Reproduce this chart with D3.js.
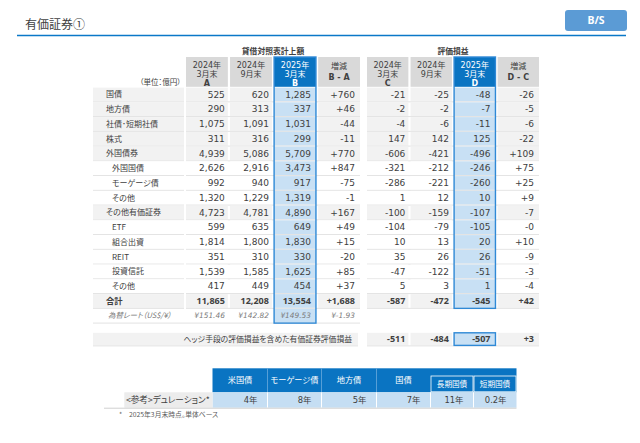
<!DOCTYPE html>
<html><head><meta charset="utf-8">
<script src="https://cdn.jsdelivr.net/npm/d3@7"></script>
<style>
html,body{margin:0;padding:0;background:#fff;}
svg{display:block;}
text{font-feature-settings:"palt";}
</style></head><body>
<svg id="c" width="640" height="443"></svg>
<script>
// ---------------- DATA ----------------
const rowLabels = ['国債','地方債','社債･短期社債','株式','外国債券','外国国債','モーゲージ債','その他','その他有価証券','ETF','組合出資','REIT','投資信託','その他','合計'];
const isSubRow  = [false,false,false,false,false,true,true,true,false,true,true,true,true,true,false];
const bsMar24 = [525,290,1075,311,4939,2626,992,1320,4723,599,1814,351,1539,417,11865];
const bsSep24 = [620,313,1091,316,5086,2916,940,1229,4781,635,1800,310,1585,449,12208];
const bsMar25 = [1285,337,1031,299,5709,3473,917,1319,4890,649,1830,330,1625,454,13554];
const bsDiff  = [760,46,-44,-11,770,847,-75,-1,167,49,15,-20,85,37,1688];
const valMar24 = [-21,-2,-4,147,-606,-321,-286,1,-100,-104,10,35,-47,5,-587];
const valSep24 = [-25,-2,-6,142,-421,-212,-221,12,-159,-79,13,26,-122,3,-472];
const valMar25 = [-48,-7,-11,125,-496,-246,-260,10,-107,-105,20,26,-51,1,-545];
const valDiff  = [-26,-5,-6,-22,109,75,25,9,-7,-0,10,-9,-3,-4,42];
const fxLabel = '為替レート（US$/¥）';
const fxRate = [151.46,142.82,149.53];
const fxDiff = -1.93;
const hedgeLabel = 'ヘッジ手段の評価損益を含めた有価証券評価損益';
const hedgeVal = [-511,-484,-507,3];
const headLeft  = [['2024年','3月末','A'],['2024年','9月末'],['2025年','3月末','B'],['増減','B - A']];
const headRight = [['2024年','3月末','C'],['2024年','9月末'],['2025年','3月末','D'],['増減','D - C']];
const groupTitles = ['貸借対照表計上額','評価損益'];
const unitLabel = '（単位：億円）';
const durCats  = ['米国債','モーゲージ債','地方債','国債','長期国債','短期国債'];
const durYears = [4,8,5,7,11,0.2];
const durLabel = '<参考>デュレーション*';
const footnote = '*　2025年3月末時点。単体ベース';
const pageTitle = '有価証券①';
const badge = 'B/S';

// ---------------- DRAW ----------------
const svg = d3.select('#c');
const NUM = '"DejaVu Sans","Noto Sans CJK JP",sans-serif';
const JP  = '"Noto Sans CJK JP",sans-serif';
const BOLDNUM = '"Noto Sans","Noto Sans CJK JP",sans-serif';
const TXT = '#404040', GREY='#f2f2f2', HEAD='#d9d9d9', DARK='#0a74c2', LIGHT='#c8e0f4', EDGE='#2f89d6';

function t(x,y,s,o={}) {
  return svg.append('text').attr('x',x).attr('y',y).attr('dy','0.35em')
    .attr('text-anchor',o.anchor||'start')
    .style('font-family',o.font||JP).style('font-size',(o.size||7.5)+'px')
    .style('font-weight',o.bold?'bold':'normal').style('font-style',o.italic?'italic':'normal')
    .attr('fill',o.fill||TXT).text(s);
}
const num = v => (v<0||Object.is(v,-0) ? '-' : '') + d3.format(',')(Math.abs(v));
const sgn = v => (v<0||Object.is(v,-0) ? '-' : '+') + d3.format(',')(Math.abs(v));

// title
t(25,25,pageTitle,{size:12,fill:'#404040'});
svg.append('line').attr('x1',17).attr('x2',626).attr('y1',35.5).attr('y2',35.5).attr('stroke','#0a78c8').attr('stroke-width',1.5);
svg.append('rect').attr('x',565).attr('y',10).attr('width',62).attr('height',21).attr('rx',3).attr('fill','#5b9bd5');
t(596,20.5,badge,{size:10.5,bold:true,fill:'#fff',anchor:'middle',font:BOLDNUM});

const y = d3.scaleBand().domain(d3.range(16)).range([87.6, 87.6+16*14.75]);
const rh = y.bandwidth();
const keys = ['a','s','b','d'];
const xL = d3.scaleBand().domain(keys).range([186,360]).paddingInner(0.05);
const xR = d3.scaleBand().domain(keys).range([367,539]).paddingInner(0.05);
const headTop = 57, headBot = 86.8;

function table(x, heads, series, title, withFx) {
  const bw = x.bandwidth();
  t((x.range()[0]+x.range()[1])/2, 51, title, {bold:true, anchor:'middle', size:7.8});
  keys.forEach((k,j)=>{
    const blue = j===2;
    svg.append('rect').attr('x',x(k)).attr('y',headTop).attr('width',bw).attr('height',headBot-headTop).attr('fill',blue?DARK:HEAD);
    const lines = heads[j];
    const cy = (headTop+headBot)/2;
    const step = 9.2;
    lines.forEach((s,li)=>{
      const yy = (j===3) ? cy-5.5+li*11 : headTop+8+li*step;
      const isLetter = (lines.length===3 && li===2) || (j===3 && li===1);
      t(x(k)+bw/2, yy, s, {anchor:'middle', size:8, font:NUM, bold:isLetter, fill:blue?'#fff':TXT});
    });
  });
  const nRows = series[0].length;
  for (let i=0;i<nRows;i++){
    const top = y(i), grey = !isSubRow[i];
    keys.forEach((k,j)=>{
      svg.append('rect').attr('x',x(k)).attr('y',top).attr('width',bw).attr('height',rh-1)
        .attr('fill', j===2 ? LIGHT : (grey?GREY:'#fff'));
      const v = series[j][i];
      const pad = (j>=2)?5:3;
      const total = i===nRows-1;
      t(x(k)+bw-pad, top+rh/2-0.5, j===3?sgn(v):num(v), {anchor:'end', size:9, font: total?BOLDNUM:NUM, bold:total});
    });
    svg.append('line').attr('x1',x.range()[0]).attr('x2',x.range()[1]).attr('y1',top+rh-0.5).attr('y2',top+rh-0.5).attr('stroke','#e2e2e2');
  }
  let bottom = y(nRows-1)+rh;
  if (withFx) {
    const top = y(nRows);
    keys.forEach((k,j)=>{
      if (j===2) svg.append('rect').attr('x',x(k)).attr('y',top).attr('width',bw).attr('height',rh-1).attr('fill',LIGHT);
      const s = j<3 ? '¥'+fxRate[j].toFixed(2) : '¥'+(fxDiff<0?'-':'')+Math.abs(fxDiff).toFixed(2);
      t(x(k)+bw-((j>=2)?5:3), top+rh/2-0.5, s, {anchor:'end', size:7.4, font:NUM, italic:true, fill:'#7a7a7a'});
    });
    svg.append('line').attr('x1',93).attr('x2',x.range()[1]).attr('y1',top+rh-0.5).attr('y2',top+rh-0.5).attr('stroke','#e2e2e2');
    bottom = top+rh;
  }
  svg.append('rect').attr('x',x('b')).attr('y',headTop).attr('width',bw).attr('height',bottom-headTop-0.5)
    .attr('fill','none').attr('stroke',EDGE).attr('stroke-width',1.4);
}

// label column (left)
t(181, 82.5, unitLabel, {anchor:'end', size:7.5});
rowLabels.forEach((s,i)=>{
  const top = y(i), grey = !isSubRow[i];
  svg.append('rect').attr('x',93).attr('y',top).attr('width',91).attr('height',rh-1).attr('fill',grey?GREY:'#fff');
  svg.append('line').attr('x1',93).attr('x2',184).attr('y1',top+rh-0.5).attr('y2',top+rh-0.5).attr('stroke','#e2e2e2');
  const last = i===rowLabels.length-1;
  t(isSubRow[i]?112:106, top+rh/2-0.5, s, {size: last?8.3:8, bold:last});
});
t(108, y(15)+rh/2-0.5, fxLabel, {size:7.5, italic:true, fill:'#7a7a7a'});

table(xL, headLeft, [bsMar24,bsSep24,bsMar25,bsDiff], groupTitles[0], true);
table(xR, headRight, [valMar24,valSep24,valMar25,valDiff], groupTitles[1], false);

// hedge row
const hTop = 332.8, hH = 12.6;
svg.append('rect').attr('x',93).attr('y',hTop).attr('width',265).attr('height',hH).attr('fill',GREY);
svg.append('line').attr('x1',93).attr('x2',358).attr('y1',hTop+hH+0.5).attr('y2',hTop+hH+0.5).attr('stroke','#e2e2e2');
t(352, hTop+hH/2, hedgeLabel, {anchor:'end', size:7.8});
keys.forEach((k,j)=>{
  const bw = xR.bandwidth();
  svg.append('rect').attr('x',xR(k)).attr('y',hTop).attr('width',bw).attr('height',hH).attr('fill', j===2?LIGHT:GREY);
  t(xR(k)+bw-((j>=2)?5:3), hTop+hH/2, j===3?sgn(hedgeVal[j]):num(hedgeVal[j]), {anchor:'end', size:9, font:BOLDNUM, bold:true});
});
svg.append('line').attr('x1',367).attr('x2',539).attr('y1',hTop+hH+0.5).attr('y2',hTop+hH+0.5).attr('stroke','#e2e2e2');
svg.append('rect').attr('x',xR('b')).attr('y',hTop).attr('width',xR.bandwidth()).attr('height',hH).attr('fill','none').attr('stroke',EDGE).attr('stroke-width',1.4);

// duration table
const colW = [55,54,55,54,43,43];
const x0 = 212.5;
const edges = [x0]; colW.forEach(w=>edges.push(edges[edges.length-1]+w));
const dTop = 368.3, dSub = 376, dHead = 392.3, dBot = 407.7;
svg.append('rect').attr('x',edges[0]).attr('y',dTop).attr('width',edges[6]-edges[0]).attr('height',dHead-dTop).attr('fill',DARK);
durCats.forEach((c,i)=>{
  const sub = i>=4;
  if (sub) {
    svg.append('rect').attr('x',edges[i]+0.5).attr('y',dSub).attr('width',colW[i]-1).attr('height',dHead-dSub-0.5)
      .attr('fill',DARK).attr('stroke','#fff').attr('stroke-width',0.8);
    t((edges[i]+edges[i+1])/2, (dSub+dHead)/2, c, {anchor:'middle', size:7.6, fill:'#fff'});
  } else {
    if (i>0) svg.append('line').attr('x1',edges[i]).attr('x2',edges[i]).attr('y1',dTop).attr('y2',dHead).attr('stroke','#6aa9dc').attr('stroke-width',0.8);
    t((edges[i]+edges[i+1])/2, 380.5, c, {anchor:'middle', size:8.2, fill:'#fff'});
  }
  svg.append('rect').attr('x',edges[i]).attr('y',dHead).attr('width',colW[i]).attr('height',dBot-dHead).attr('fill','#c5def3');
  if (i>0) svg.append('line').attr('x1',edges[i]).attr('x2',edges[i]).attr('y1',dHead).attr('y2',dBot).attr('stroke','#fff').attr('stroke-width',1);
  t(edges[i+1]-10, (dHead+dBot)/2, durYears[i]+'年', {anchor:'end', size:8.4, font:NUM});
});
svg.append('rect').attr('x',124.3).attr('y',dHead).attr('width',edges[0]-124.3).attr('height',dBot-dHead).attr('fill','#ececec');
t(126, (dHead+dBot)/2, durLabel, {size:8.6});
svg.append('line').attr('x1',104).attr('x2',edges[6]).attr('y1',dBot+0.5).attr('y2',dBot+0.5).attr('stroke','#d0d0d0');
t(119, 414.5, footnote, {size:6.8, fill:'#595959'});
</script>
</body></html>
